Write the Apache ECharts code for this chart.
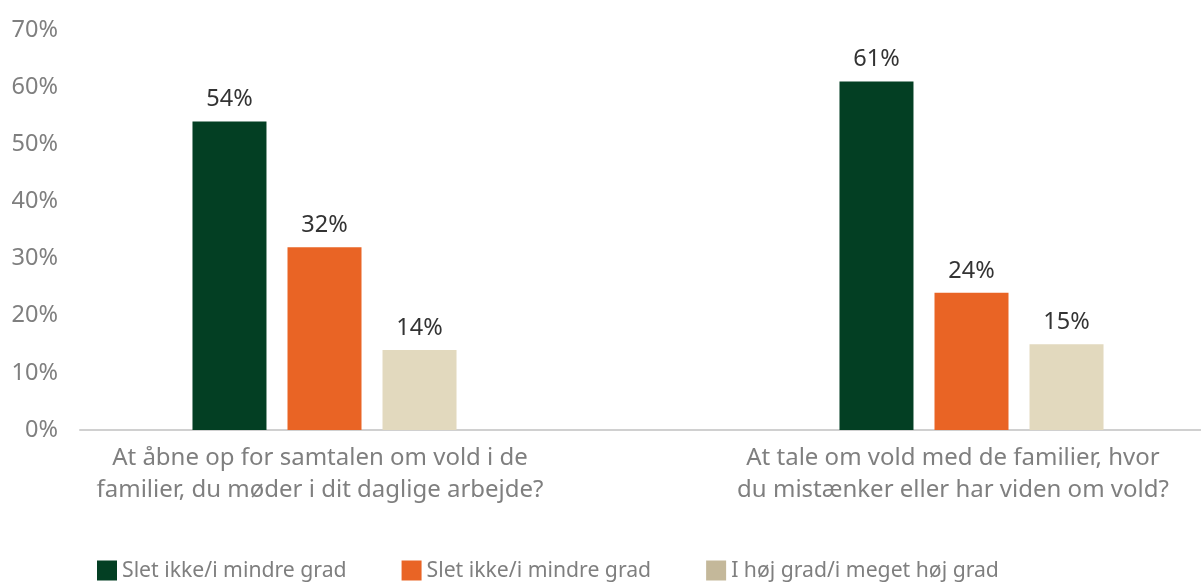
<!DOCTYPE html>
<html>
<head>
<meta charset="utf-8">
<script src="https://cdn.jsdelivr.net/npm/echarts@6/dist/echarts.min.js"></script>
<style>
  html, body { margin: 0; padding: 0; background: #fff; }
  #main { width: 1201px; height: 583px; }
</style>
</head>
<body>
<div id="main"></div>
<script>
var categories = [
    'At åbne op for samtalen om vold i de\nfamilier, du møder i dit daglige arbejde?',
    'At tale om vold med de familier, hvor\ndu mistænker eller har viden om vold?'
];
// anden serie har samme tekst, mellemrum til sidst så legenden ikke slår dem sammen
var seriesNames = ['Slet ikke/i mindre grad', 'Slet ikke/i mindre grad ', 'I høj grad/i meget høj grad'];
var seriesColors = ['#033F23', '#E96425', '#E2D9BE'];
var legendColors = ['#033F23', '#E96425', '#C4B89A'];
var values1 = [54, 61];
var values2 = [32, 24];
var values3 = [14, 15];
var yTicks = [0, 70, 10];

var font = '"Noto Sans", "Open Sans", sans-serif';
var myChart = echarts.init(document.getElementById('main'));

var allValues = [values1, values2, values3];
var series = [];
for (var i = 0; i < 3; i++) {
    series.push({
        name: seriesNames[i],
        type: 'bar',
        xAxisIndex: 1,
        yAxisIndex: 1,
        data: allValues[i],
        barWidth: 74,
        barGap: '28.4%',
        itemStyle: { color: seriesColors[i] },
        label: {
            show: true,
            position: 'top',
            distance: 10,
            formatter: '{c}%',
            color: '#333333',
            fontFamily: font,
            fontSize: 23.5
        }
    });
}

var option = {
    animation: false,
    legend: {
        left: 92,
        top: 555,
        itemWidth: 20,
        itemHeight: 20,
        itemGap: 55,
        icon: 'rect',
        formatter: function (name) { return name.trim(); },
        textStyle: { color: '#7F7F7F', fontFamily: font, fontSize: 21.2 },
        data: seriesNames.map(function (n, i) {
            return { name: n, itemStyle: { color: legendColors[i] } };
        })
    },
    grid: [
        // aksen og y-labels
        { left: 80, right: 0, top: 30, bottom: 153, outerBoundsMode: 'none' },
        // søjler (går ud over billedets højre kant)
        { left: 1, width: 1294, top: 30, bottom: 153, outerBoundsMode: 'none' },
        // kategori-tekster
        { left: 3.5, width: 1266, top: 30, bottom: 153, outerBoundsMode: 'none' }
    ],
    xAxis: [
        {
            gridIndex: 0, type: 'category', data: categories,
            axisLine: { lineStyle: { color: '#D0D0D0', width: 2 } },
            axisTick: { show: false },
            axisLabel: { show: false }
        },
        {
            gridIndex: 1, type: 'category', data: categories,
            axisLine: { show: false }, axisTick: { show: false }, axisLabel: { show: false }
        },
        {
            gridIndex: 2, type: 'category', data: categories,
            axisLine: { show: false }, axisTick: { show: false },
            axisLabel: {
                interval: 0,
                margin: 12,
                color: '#7F7F7F',
                fontFamily: font,
                fontSize: 24,
                lineHeight: 32
            }
        }
    ],
    yAxis: [
        {
            gridIndex: 0, type: 'value', min: yTicks[0], max: yTicks[1], interval: yTicks[2],
            axisLine: { show: false }, axisTick: { show: false }, splitLine: { show: false },
            axisLabel: { formatter: '{value}%', color: '#7F7F7F', fontFamily: font, fontSize: 23.5, margin: 22 }
        },
        {
            gridIndex: 1, type: 'value', min: yTicks[0], max: yTicks[1], show: false, splitLine: { show: false }
        },
        {
            gridIndex: 2, type: 'value', min: yTicks[0], max: yTicks[1], show: false, splitLine: { show: false }
        }
    ],
    series: series
};

myChart.setOption(option);
</script>
</body>
</html>
